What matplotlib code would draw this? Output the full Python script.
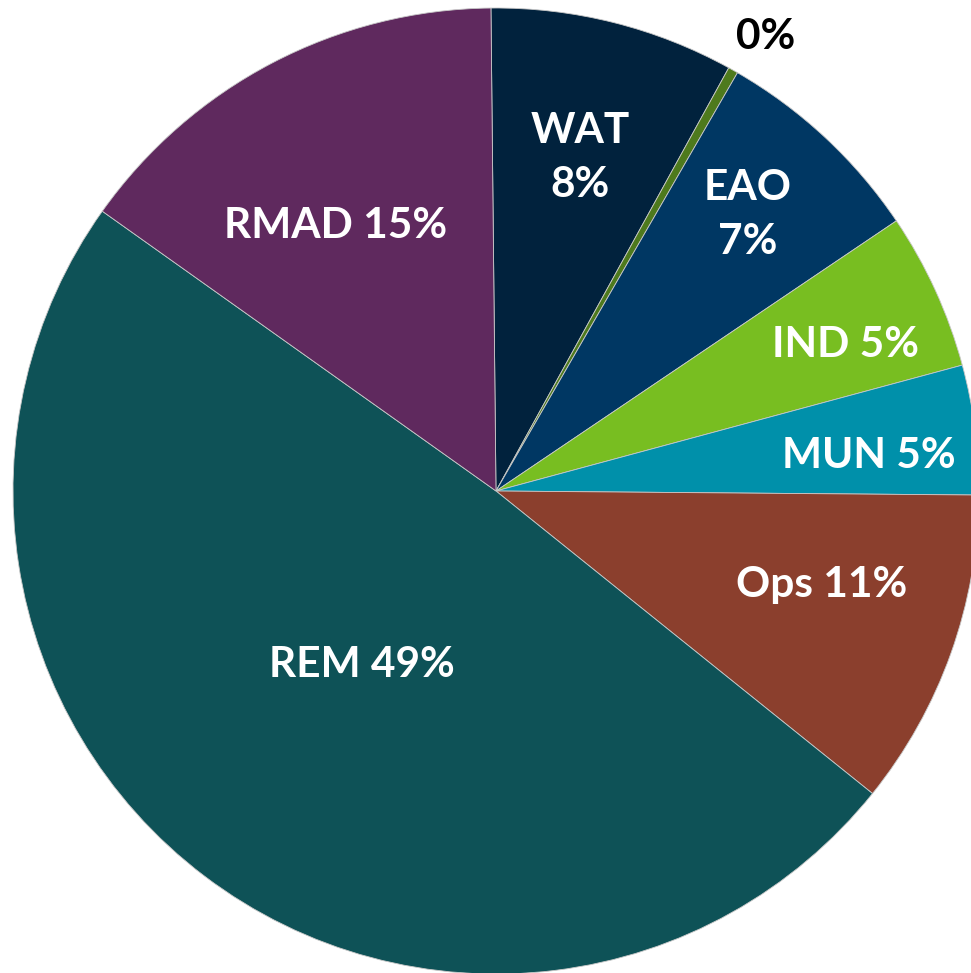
import matplotlib.pyplot as plt

# slice shares, clockwise from the top
names = ['WAT', 'Other', 'EAO', 'IND', 'MUN', 'Ops', 'REM', 'RMAD']
shares = [8.17, 0.33, 7.22, 5.25, 4.33, 10.64, 49.06, 15.0]
labels = ['WAT\n8%', '0%', 'EAO\n7%', 'IND 5%', 'MUN 5%', 'Ops 11%', 'REM 49%', 'RMAD 15%']
colors = ['#01223d', '#4e7a1d', '#003763', '#78be21', '#0090aa', '#8b3f2d', '#0e5257', '#5f295e']

# label centres in pixel coords (x, y from top)
label_pos = [(580, 158), (766, 37), (748, 215), (845, 345), (869, 456),
             (822, 585), (362, 665), (336, 226)]
label_col = ['white', 'black', 'white', 'white', 'white', 'white', 'white', 'white']

W, H = 971, 973
fig = plt.figure(figsize=(W / 100, H / 100), dpi=100)
ax = fig.add_axes([0, 0, 1, 1])

ax.pie(shares, colors=colors, startangle=90.6, counterclock=False,
       center=(496, H - 491), radius=483,
       wedgeprops=dict(edgecolor='#c8c8c8', linewidth=0.6))

for lab, (x, y), c in zip(labels, label_pos, label_col):
    ax.text(x, H - y, lab, ha='center', va='center', color=c,
            fontsize=30.5, fontweight='bold', family='Lato', linespacing=1.5)

ax.set_xlim(0, W)
ax.set_ylim(0, H)
ax.set_aspect('equal')
ax.axis('off')

fig.savefig('out.png', dpi=100)
